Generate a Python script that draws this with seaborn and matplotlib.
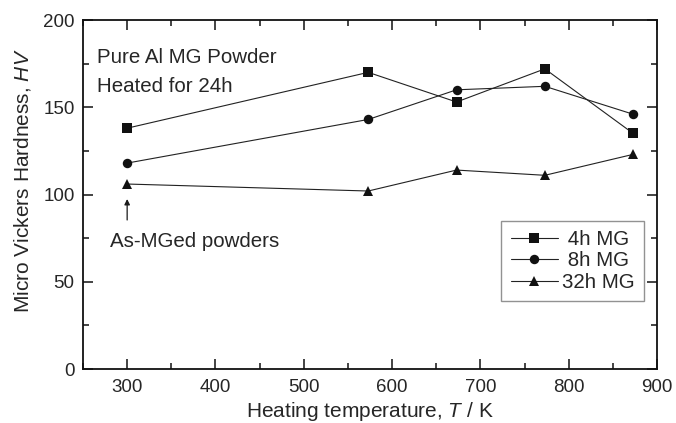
import pandas as pd
import seaborn as sns
import matplotlib.pyplot as plt
from matplotlib.ticker import MultipleLocator

temperature = [300, 573, 673, 773, 873]
hv_4h = [138, 170, 153, 172, 135]
hv_8h = [118, 143, 160, 162, 146]
hv_32h = [106, 102, 114, 111, 123]
series_names = ["4h MG", "8h MG", "32h MG"]

rows = []
for name, vals in zip(series_names, [hv_4h, hv_8h, hv_32h]):
    for t, v in zip(temperature, vals):
        rows.append([name, t, v])
df = pd.DataFrame(rows, columns=["Series", "T", "HV"])

sns.set_style("ticks")
plt.rcParams['font.family'] = ['Liberation Sans', 'DejaVu Sans']
plt.rcParams['mathtext.fontset'] = 'custom'
plt.rcParams['mathtext.it'] = 'Liberation Sans:italic'
plt.rcParams['mathtext.rm'] = 'Liberation Sans'

fig = plt.figure(figsize=(6.76, 4.23), dpi=100)
ax = fig.add_axes([83 / 676, 54 / 423, 574 / 676, 349 / 423])

markers = {"4h MG": ("s", 6.5), "8h MG": ("o", 6.8), "32h MG": ("^", 7.8)}
for name in series_names:
    m, ms = markers[name]
    sns.lineplot(data=df[df["Series"] == name], x="T", y="HV", label=name,
                 color="#222222", marker=m, markersize=ms,
                 markerfacecolor="#111111", markeredgewidth=0,
                 linewidth=0.8, ax=ax)

ax.set_xlim(250, 900)
ax.set_ylim(0, 200)
ax.xaxis.set_major_locator(MultipleLocator(100))
ax.xaxis.set_minor_locator(MultipleLocator(50))
ax.yaxis.set_major_locator(MultipleLocator(50))
ax.yaxis.set_minor_locator(MultipleLocator(25))
ax.tick_params(which="both", direction="in", top=True, right=True,
               labeltop=False, labelright=False, width=1.1, color="#111111")
ax.tick_params(which="major", length=7, labelsize=13.5)
ax.tick_params(which="minor", length=4)
ax.tick_params(axis="x", which="major", pad=7.5)
ax.tick_params(axis="y", which="major", pad=6)
for s in ax.spines.values():
    s.set_linewidth(1.3)
    s.set_color("#111111")

ax.set_xlabel("Heating temperature, $T$ / K", fontsize=15)
ax.set_ylabel("Micro Vickers Hardness, $HV$", fontsize=15)
ax.xaxis.set_label_coords(0.5, -0.1375)
ax.xaxis.label.set_verticalalignment("baseline")
ax.yaxis.set_label_coords(-0.0953, 0.539)
ax.yaxis.label.set_verticalalignment("baseline")

ax.text(97 / 676, 1 - 62.7 / 423, "Pure Al MG Powder", transform=fig.transFigure,
        fontsize=14.8, va="baseline", ha="left")
ax.text(97 / 676, 1 - 91.7 / 423, "Heated for 24h", transform=fig.transFigure,
        fontsize=14.8, va="baseline", ha="left")
ax.text(0.047, 0.35, "As-MGed powders", transform=ax.transAxes,
        fontsize=14.8, va="baseline", ha="left")
ax.annotate("", xy=(300, 97.4), xytext=(300, 85.4),
            arrowprops=dict(arrowstyle="-|>", color="#1a1a1a", lw=0.9,
                            mutation_scale=8, shrinkA=0, shrinkB=0))

handles, labels = ax.get_legend_handles_labels()
labels = [" " + l if len(l) < 6 else l for l in labels]
leg = ax.legend(handles, labels, loc="lower right",
                bbox_to_anchor=(0.977, 0.195), fontsize=14.8,
                frameon=True, fancybox=False, edgecolor="#777777",
                handlelength=2.3, labelspacing=0.12, borderpad=0.45,
                handletextpad=0.2, borderaxespad=0)
leg.get_frame().set_linewidth(1.0)

fig.savefig("out.png", dpi=100)
